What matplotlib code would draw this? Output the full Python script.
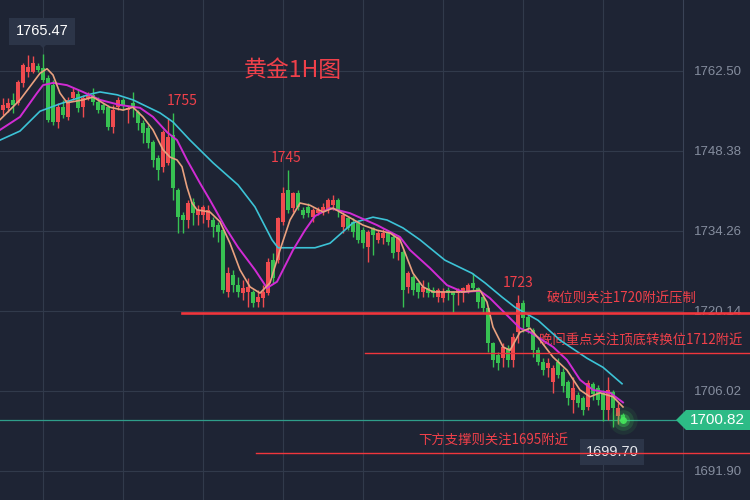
import numpy as np
import matplotlib
matplotlib.use('Agg')
import matplotlib.pyplot as plt
from matplotlib.patches import Polygon

plt.rcParams['font.family'] = ['Noto Sans CJK SC', 'DejaVu Sans']

# 1H candles, oldest first (red = up, green = down)
opens = [
    1755.6, 1756.0, 1757.4, 1756.9, 1760.4, 1762.3, 1762.3, 1763.4, 1763.0, 1761.3,
    1760.0, 1753.5, 1756.1, 1754.4, 1757.7, 1758.4, 1756.1, 1757.7, 1758.3, 1757.0,
    1756.5, 1756.1, 1752.6, 1756.1, 1757.4, 1755.6, 1756.9, 1755.3, 1753.3, 1752.4,
    1750.0, 1747.1, 1745.6, 1746.3, 1751.2, 1741.5, 1737.1, 1736.2, 1739.4, 1737.1,
    1737.1, 1736.2, 1736.2, 1735.3, 1734.4, 1723.5, 1726.5, 1724.7, 1723.3, 1723.5,
    1723.5, 1721.7, 1722.4, 1723.3, 1729.1, 1729.1, 1735.9, 1741.5, 1738.3, 1741.0,
    1738.0, 1738.5, 1736.7, 1737.4, 1737.6, 1738.0, 1738.9, 1739.7, 1735.0, 1736.6,
    1735.9, 1735.7, 1734.4, 1731.4, 1734.8, 1732.7, 1733.0, 1734.1, 1733.2, 1730.5,
    1730.5, 1724.4, 1726.1, 1725.1, 1723.5, 1724.2, 1723.8, 1722.6, 1722.4, 1723.8,
    1723.5, 1723.3, 1723.3, 1723.5, 1725.1, 1724.2, 1722.6, 1720.7, 1714.5, 1712.4,
    1711.8, 1713.6, 1711.5, 1716.4, 1721.5, 1719.1, 1716.8, 1713.2, 1711.1, 1710.1,
    1707.6, 1711.1, 1709.4, 1707.6, 1704.4, 1705.3, 1704.8, 1703.2, 1707.3, 1706.5,
    1705.7, 1702.7, 1705.8, 1701.6, 1701.8]
highs = [
    1757.7, 1757.7, 1758.6, 1760.9, 1763.9, 1765.3, 1765.1, 1763.9, 1765.47, 1761.8,
    1760.9, 1756.9, 1757.4, 1757.9, 1759.5, 1759.1, 1758.3, 1758.8, 1759.5, 1757.9,
    1756.9, 1756.5, 1756.5, 1757.9, 1757.7, 1756.3, 1758.8, 1755.6, 1753.9, 1753.0,
    1750.3, 1747.7, 1752.1, 1754.2, 1755.0, 1741.9, 1737.6, 1739.7, 1740.1, 1738.8,
    1738.8, 1738.8, 1736.7, 1735.9, 1734.8, 1727.9, 1727.4, 1726.1, 1725.6, 1725.9,
    1723.8, 1723.8, 1724.7, 1729.5, 1730.4, 1736.7, 1742.0, 1745.0, 1741.1, 1741.5,
    1738.5, 1739.2, 1738.3, 1738.5, 1739.2, 1740.1, 1740.6, 1740.1, 1737.6, 1736.7,
    1736.6, 1736.2, 1735.0, 1734.4, 1735.0, 1734.4, 1734.6, 1734.4, 1733.5, 1733.6,
    1730.9, 1727.2, 1726.5, 1725.3, 1725.6, 1725.3, 1724.4, 1724.2, 1724.2, 1724.4,
    1723.7, 1724.2, 1724.4, 1725.1, 1726.8, 1724.4, 1723.0, 1720.8, 1714.7, 1712.9,
    1714.5, 1714.1, 1716.3, 1723.0, 1722.1, 1719.4, 1717.1, 1713.8, 1711.8, 1711.8,
    1710.6, 1711.8, 1710.1, 1707.9, 1708.5, 1705.8, 1705.1, 1707.9, 1707.6, 1707.1,
    1706.2, 1708.5, 1706.2, 1703.9, 1702.1]
lows = [
    1754.7, 1755.3, 1755.1, 1756.5, 1759.7, 1761.4, 1762.1, 1762.3, 1760.6, 1753.5,
    1753.0, 1752.4, 1754.2, 1753.9, 1757.4, 1755.3, 1754.4, 1757.4, 1756.5, 1755.1,
    1755.1, 1752.1, 1751.6, 1755.6, 1755.6, 1753.3, 1754.4, 1752.1, 1749.8, 1748.9,
    1745.6, 1743.3, 1744.7, 1745.9, 1739.7, 1733.9, 1733.9, 1734.8, 1735.3, 1735.3,
    1735.7, 1735.0, 1733.2, 1732.3, 1723.3, 1722.6, 1723.5, 1722.6, 1722.1, 1720.8,
    1720.8, 1720.8, 1720.8, 1723.0, 1725.1, 1728.6, 1735.3, 1737.4, 1737.6, 1738.0,
    1736.6, 1736.7, 1735.9, 1737.1, 1737.1, 1737.4, 1738.0, 1736.7, 1733.9, 1734.4,
    1733.2, 1732.1, 1731.3, 1728.8, 1730.0, 1732.1, 1731.9, 1731.8, 1729.5, 1729.1,
    1720.8, 1723.3, 1723.0, 1722.4, 1722.6, 1722.6, 1722.6, 1721.7, 1721.7, 1722.1,
    1720.0, 1721.2, 1721.7, 1723.3, 1723.8, 1720.7, 1720.0, 1712.9, 1710.3, 1709.7,
    1710.3, 1710.3, 1710.3, 1714.5, 1716.4, 1716.3, 1712.0, 1710.6, 1708.8, 1708.5,
    1705.7, 1708.3, 1705.8, 1703.5, 1702.1, 1703.2, 1701.8, 1702.7, 1704.4, 1703.5,
    1700.7, 1700.9, 1699.70, 1700.2, 1700.4]
closes = [
    1756.5, 1756.9, 1756.5, 1760.6, 1763.6, 1763.2, 1763.9, 1762.7, 1760.9, 1753.9,
    1753.5, 1756.1, 1754.7, 1757.4, 1758.8, 1756.0, 1757.7, 1758.3, 1757.0, 1755.6,
    1755.6, 1752.6, 1755.6, 1757.4, 1756.5, 1756.0, 1756.0, 1753.3, 1751.6, 1749.8,
    1746.8, 1745.0, 1751.7, 1750.9, 1741.8, 1736.7, 1736.2, 1739.2, 1737.4, 1738.0,
    1738.5, 1738.0, 1735.0, 1734.1, 1723.8, 1726.8, 1724.7, 1723.5, 1724.2, 1724.4,
    1721.5, 1722.6, 1723.5, 1728.8, 1726.0, 1736.6, 1741.0, 1738.0, 1741.0, 1738.5,
    1737.1, 1737.4, 1738.0, 1738.0, 1738.5, 1739.7, 1739.7, 1738.0, 1737.1, 1734.8,
    1734.1, 1732.7, 1732.1, 1734.1, 1733.6, 1733.9, 1733.9, 1732.3, 1730.4, 1733.2,
    1723.8, 1726.8, 1723.8, 1723.5, 1724.4, 1723.3, 1723.3, 1723.8, 1723.5, 1723.3,
    1723.0, 1723.8, 1724.2, 1724.7, 1724.2, 1721.7, 1720.7, 1714.5, 1711.5, 1710.9,
    1713.8, 1711.5, 1715.5, 1721.5, 1718.9, 1717.3, 1713.2, 1711.1, 1709.7, 1710.9,
    1710.1, 1708.8, 1706.9, 1704.8, 1706.5, 1703.9, 1702.7, 1707.4, 1705.5, 1704.4,
    1702.7, 1706.2, 1703.0, 1703.0, 1700.82]

# moving average lines as (candle position, price)
ma_fast_x = [-0.6, 3.4, 7.4, 8.8, 10.0, 11.4, 12.8, 16.0, 18.0, 21.4, 24.0, 26.0, 28.0,
             30.0, 32.0, 33.4, 34.8, 35.8, 36.8, 37.8, 38.8, 41.4, 43.4, 45.4, 47.4,
             49.4, 51.4, 53.4, 55.4, 57.4, 59.4, 61.4, 64.0, 66.0, 69.4, 72.0, 74.8,
             77.4, 79.4, 82.0, 84.0, 86.0, 92.0, 95.4, 96.8, 98.0, 100.0, 101.4, 103.4,
             105.4, 107.4, 110.0, 112.8, 115.4, 117.4, 119.4, 122.0, 124.0]
ma_fast_y = [1753.9, 1757.4, 1762.1, 1762.9, 1761.8, 1758.6, 1756.9, 1757.4, 1757.9,
             1756.1, 1755.6, 1756.1, 1754.4, 1752.1, 1748.6, 1747.3, 1746.8, 1745.6,
             1742.0, 1739.2, 1738.0, 1737.6, 1735.9, 1732.1, 1727.4, 1724.4, 1723.3,
             1725.1, 1730.9, 1736.2, 1739.2, 1738.8, 1737.6, 1738.3, 1736.6, 1735.3,
             1734.4, 1733.9, 1732.7, 1726.8, 1724.4, 1723.5, 1723.5, 1723.8, 1721.7,
             1717.3, 1713.8, 1713.2, 1716.4, 1717.1, 1715.0, 1712.0, 1709.7, 1706.2,
             1705.0, 1705.7, 1705.0, 1703.2]
ma_mid_x = [-0.6, 3.4, 6.8, 8.0, 10.0, 12.8, 16.0, 19.4, 23.4, 27.4, 30.0, 32.8, 34.8,
            36.8, 39.4, 41.4, 44.4, 47.0, 50.4, 52.8, 54.8, 58.0, 60.4, 62.4, 65.4, 69.4,
            74.8, 79.4, 81.4, 85.4, 88.8, 92.0, 95.4, 97.4, 100.8, 103.4, 105.4, 110.0,
            112.8, 115.4, 118.0, 121.4, 124.0]
ma_mid_y = [1752.1, 1754.4, 1758.6, 1760.0, 1760.4, 1760.0, 1758.8, 1757.4, 1756.5,
            1756.0, 1754.4, 1751.7, 1750.3, 1746.8, 1742.7, 1739.7, 1735.0, 1731.4,
            1727.4, 1724.2, 1725.3, 1730.9, 1734.4, 1736.9, 1738.3, 1737.4, 1735.3,
            1733.2, 1730.9, 1727.7, 1724.7, 1723.5, 1723.7, 1722.4, 1719.4, 1717.1,
            1716.4, 1713.8, 1711.5, 1708.0, 1706.2, 1705.7, 1704.0]
ma_slow_x = [-0.6, 3.4, 7.4, 11.4, 17.4, 19.4, 22.8, 26.0, 31.4, 34.0, 37.4, 42.0, 47.0,
             50.4, 53.8, 55.0, 62.4, 65.4, 70.0, 74.0, 76.8, 80.0, 83.4, 88.4, 93.8, 96.4,
             99.8, 102.4, 107.0, 111.4, 116.8, 120.0, 123.8]
ma_slow_y = [1750.3, 1751.9, 1755.4, 1756.7, 1758.4, 1758.8, 1758.3, 1757.4, 1755.1,
             1753.5, 1750.3, 1746.3, 1742.4, 1738.5, 1732.7, 1731.3, 1731.3, 1732.1,
             1735.7, 1736.7, 1736.2, 1734.8, 1732.7, 1729.1, 1726.8, 1725.1, 1722.6,
             1720.8, 1718.5, 1715.0, 1711.8, 1710.2, 1707.3]

price_ticks = [1762.50, 1748.38, 1734.26, 1720.14, 1706.02, 1691.90]
last_price = 1700.82
top_price = 1765.47
low_price = 1699.70

# support / resistance lines: level, start position, label
levels = [1719.8, 1712.7, 1695.1]
level_starts = [35.8, 72.4, 50.6]
level_labels = ['破位则关注1720附近压制', '晚间重点关注顶底转换位1712附近', '下方支撑则关注1695附近']
level_widths = [1.9, 1.0, 1.0]
label_pos = [(108.8, 1722.4), (107.2, 1715.0), (83.0, 1697.3)]

peaks = ['1755', '1745', '1723']
peak_x = [35.8, 56.6, 103.0]
peak_y = [1757.2, 1747.2, 1725.0]

BG = '#1e2434'
RED = '#ef4b4f'
GREEN = '#37c152'
TEXT_RED = '#f0404a'
NUM_FONT = 'Liberation Sans'

fig = plt.figure(figsize=(7.5, 5), dpi=100, facecolor=BG)
ax = fig.add_axes([0, 0, 683 / 750, 1])
ax.set_facecolor(BG)

x = np.arange(len(closes))
o = np.array(opens)
c = np.array(closes)
up = c >= o
colors = np.where(up, RED, GREEN)
bottom = np.minimum(o, c)
height = np.maximum(np.abs(c - o), 0.18)

ax.vlines(x, lows, highs, colors=colors, linewidth=1.0, zorder=3)
ax.bar(x, height, bottom=bottom, width=0.7, color=colors, linewidth=0, zorder=4)

ax.plot(ma_slow_x, ma_slow_y, color='#3cc3d6', lw=1.2, zorder=5)
ax.plot(ma_mid_x, ma_mid_y, color='#d12bd4', lw=1.4, zorder=5)
ax.plot(ma_fast_x, ma_fast_y, color='#e9a17f', lw=1.2, zorder=6)

ax.set_xlim(-0.6, 136.0)
ax.set_ylim(1686.78, 1775.03)

# grid
ax.set_xticks([8, 24, 40, 56, 72, 88, 104, 120])
ax.set_yticks(price_ticks)
ax.grid(True, color='#313a4b', lw=0.8, zorder=0)
ax.yaxis.tick_right()
ax.tick_params(axis='y', length=0, pad=8, labelcolor='#858d9e', labelsize=9.5)
ax.tick_params(axis='x', length=0, labelbottom=False)
ax.set_yticklabels([f'{t:.2f}' for t in price_ticks], family=NUM_FONT)
for side in ['top', 'left', 'bottom']:
    ax.spines[side].set_visible(False)
ax.spines['right'].set_color('#3a4356')
ax.spines['right'].set_linewidth(0.8)

# current price line and glow
ax.axhline(last_price, color='#2f9e8a', lw=0.9, zorder=2)
for s, a in [(420, 0.08), (220, 0.15), (90, 0.3), (25, 0.9)]:
    ax.scatter(x[-1], last_price, s=s, color='#46e85c', alpha=a, lw=0, zorder=7)

# key levels
for lvl, x0, lw in zip(levels, level_starts, level_widths):
    ax.plot([x0, 149.4], [lvl, lvl], color='#f0363c', lw=lw, zorder=6, clip_on=False)
for lbl, (tx, ty) in zip(level_labels, label_pos):
    ax.text(tx, ty, lbl, color=TEXT_RED, fontsize=9.6, va='center', ha='left')

for lbl, px, py in zip(peaks, peak_x, peak_y):
    ax.text(px, py, lbl, color=TEXT_RED, fontsize=10, ha='center', va='center')

ax.text(58.0, 1762.6, '黄金1H图', color=TEXT_RED, fontsize=16.5, ha='center', va='center')

# high / low tags
ax.text(7.8, 1769.5, f'{top_price:.2f}', color='white', fontsize=10.5, ha='center', va='center',
        family=NUM_FONT,
        bbox=dict(boxstyle='square,pad=0.45', fc='#2c3548', ec='none'))
pointer = Polygon([(38 / 750, 457 / 500), (48 / 750, 457 / 500), (43 / 750, 452 / 500)],
                  closed=True, transform=fig.transFigure, fc='#2c3548', ec='none')
fig.patches.append(pointer)
ax.text(121.8, 1695.3, f'{low_price:.2f}', color='#e6e8ee', fontsize=10.5, ha='center', va='center',
        family=NUM_FONT,
        bbox=dict(boxstyle='square,pad=0.4', fc='#2c3548', ec='none'))

# last price tag on the axis
tag = Polygon([(676 / 750, 80 / 500), (686 / 750, 90 / 500), (750 / 750, 90 / 500),
               (750 / 750, 70 / 500), (686 / 750, 70 / 500)],
              closed=True, transform=fig.transFigure, fc='#2dbb86', ec='none')
fig.patches.append(tag)
fig.text(717 / 750, 80 / 500, f'{last_price:.2f}', color='white', fontsize=11,
         ha='center', va='center', family=NUM_FONT)

fig.savefig('out.png', dpi=100, facecolor=BG)
